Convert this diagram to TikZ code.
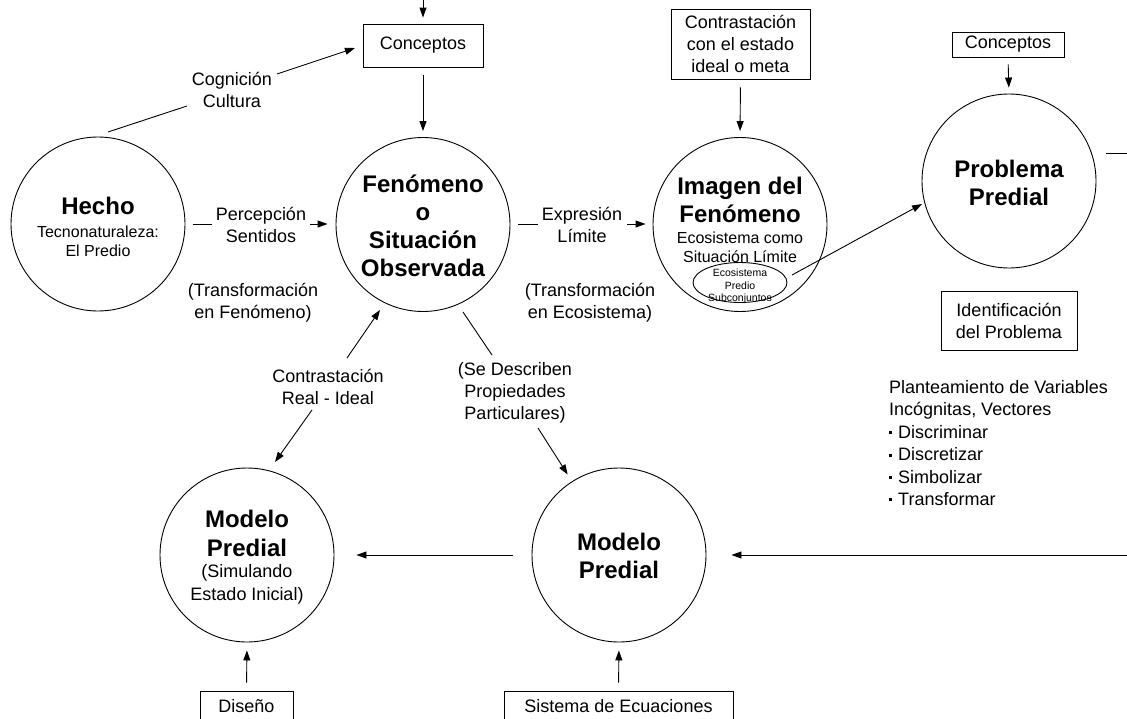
\documentclass[tikz,border=0pt]{standalone}
\usepackage{fontspec}
\setmainfont{Liberation Sans}
\usetikzlibrary{arrows.meta,shapes.geometric}
\newcommand\pbullet{\raisebox{4pt}{\rule{3pt}{3pt}}\hspace{6pt}}
\begin{document}
\begin{tikzpicture}[x=1pt,y=-1pt,
  arr/.style={-{Triangle[length=10pt,width=7pt]}, line width=0.9pt},
  ln/.style={line width=0.9pt},
  bub/.style={draw, circle, minimum size=174pt, inner sep=0pt, line width=0.9pt},
  box/.style={draw, line width=0.9pt, inner sep=0pt, font=\fontsize{18}{22}\selectfont, align=center},
  tx/.style={inner sep=0pt, align=center, font=\fontsize{18}{22}\selectfont},
  sm/.style={inner sep=0pt, align=center, font=\fontsize{16}{18.5}\selectfont},
  bt/.style={inner sep=0pt, align=center, font=\fontsize{24}{28}\bfseries\selectfont}]
\useasboundingbox (0,0) rectangle (1127,718);
\clip (0,0) rectangle (1127,718);
\fill[white] (0,0) rectangle (1127,718);

% circles
\node[bub] (hecho) at (98,224) {};
\node[bub] (fen) at (423,224.5) {};
\node[bub] (img) at (740,224.5) {};
\node[bub] (prob) at (1009,181) {};
\node[bub] (modA) at (247,555) {};
\node[bub] (modB) at (619,555) {};
\node[draw, ellipse, minimum width=94pt, minimum height=40pt, inner sep=0pt, line width=0.9pt] (eco) at (740,282.5) {};

% circle texts
\node[bt] (thecho) at (98,206) {Hecho};
\node[sm] (thecho2) at (98,241.5) {Tecnonaturaleza:\\El Predio};
\node[bt] (tfen) at (423,226) {Fenómeno\\o\\Situación\\Observada};
\node[bt] (timg) at (740,199.5) {Imagen del\\Fenómeno};
\node[sm] (timg2) at (740,247.5) {Ecosistema como\\Situación Límite};
\node[inner sep=0pt, align=center, font=\fontsize{10.5}{12.5}\selectfont] (teco) at (740,286.5) {Ecosistema\\Predio\\Subconjuntos};
\node[bt] (tprob) at (1009,182.5) {Problema\\Predial};
\node[bt, font=\fontsize{24}{29}\bfseries\selectfont] (tmodA) at (247,533) {Modelo\\Predial};
\node[tx, font=\fontsize{18}{23}\selectfont] (tmodA2) at (247,584.5) {(Simulando\\Estado Inicial)};
\node[bt] (tmodB) at (619,555.5) {Modelo\\Predial};

% boxes
\node[box, minimum width=120pt, minimum height=43pt] (concA) at (423,45.5) {Conceptos};
\node[box, minimum width=139pt, minimum height=70pt] (contr) at (740.5,44) {Contrastación\\con el estado\\ideal o meta};
\node[box, minimum width=112pt, minimum height=25pt] (concB) at (1008,44.5) {Conceptos};
\node[box, minimum width=136pt, minimum height=59pt] (ident) at (1009,320.5) {Identificación\\del Problema};
\node[box, minimum width=93pt, minimum height=30pt] (dis) at (246.5,706) {Diseño};
\node[box, minimum width=229pt, minimum height=30pt] (sis) at (618.5,706) {Sistema de Ecuaciones};

% labels
\node[tx] (cog) at (232,90) {Cognición\\Cultura};
\node[tx] (perc) at (261,225) {Percepción\\Sentidos};
\node[tx] (tf1) at (253,302.5) {(Transformación\\en Fenómeno)};
\node[tx] (expr) at (582,225) {Expresión\\Límite};
\node[tx] (tf2) at (590,302.5) {(Transformación\\en Ecosistema)};
\node[tx] (cri) at (328,387) {Contrastación\\Real - Ideal};
\node[tx] (sed) at (515,393) {(Se Describen\\Propiedades\\Particulares)};
\node[tx, align=left, anchor=west, font=\fontsize{18}{22.4}\selectfont] (plan) at (889,443) {Planteamiento de Variables\\Incógnitas, Vectores\\\pbullet Discriminar\\\pbullet Discretizar\\\pbullet Simbolizar\\\pbullet Transformar};

% coordinates
\coordinate (topin) at (423,-5);
\coordinate (c1) at (108,132);
\coordinate (c2) at (187,106);
\coordinate (c3) at (277,74);
\coordinate (p1) at (193,224);
\coordinate (p2) at (212,224);
\coordinate (p3) at (310,224);
\coordinate (e1) at (518,224);
\coordinate (e2) at (538,224);
\coordinate (e3) at (627,224);
\coordinate (q1) at (792,275);
\coordinate (q2) at (922,204);
\coordinate (r1) at (1106,153);
\coordinate (r2) at (1135,153);
\coordinate (r3) at (1135,555);
\coordinate (s1) at (463,312);
\coordinate (s2) at (492,355);
\coordinate (s3) at (538,428);
\coordinate (u1) at (347,358);
\coordinate (u2) at (380,310);
\coordinate (d1) at (312,410);
\coordinate (d2) at (275,462);

% connectors
\draw[arr, shorten >=6pt] (topin) -- (concA.north);
\draw[arr, shorten <=8pt, shorten >=6pt] (concA.south) -- (fen.north);
\draw[ln] (c1) -- (c2);
\draw[arr, shorten >=8pt] (c3) -- (concA.west);
\draw[ln] (p1) -- (p2);
\draw[arr, shorten >=8pt] (p3) -- (p3 -| fen.west);
\draw[ln] (e1) -- (e2);
\draw[arr, shorten >=7pt] (e3) -- (e3 -| img.west);
\draw[arr, shorten <=8pt, shorten >=6pt] (contr.south) -- (img.north);
\draw[arr] (q1) -- (q2);
\draw[arr, shorten <=7pt, shorten >=6pt] (concB.south) -- (prob.north);
\draw[ln] (r1) -- (r2);
\draw[arr, shorten >=25pt] (r3) -- (modB.east);
\draw[arr, shorten <=19pt, shorten >=22pt] (modB.west) -- (modA.east);
\draw[ln] (s1) -- (s2);
\draw[arr, shorten >=8pt] (s3) -- (modB);
\draw[arr] (u1) -- (u2);
\draw[arr] (d1) -- (d2);
\draw[arr, shorten <=8pt, shorten >=8pt] (dis.north) -- (modA.south);
\draw[arr, shorten <=8pt, shorten >=8pt] (sis.north) -- (modB.south);
\end{tikzpicture}
\end{document}
